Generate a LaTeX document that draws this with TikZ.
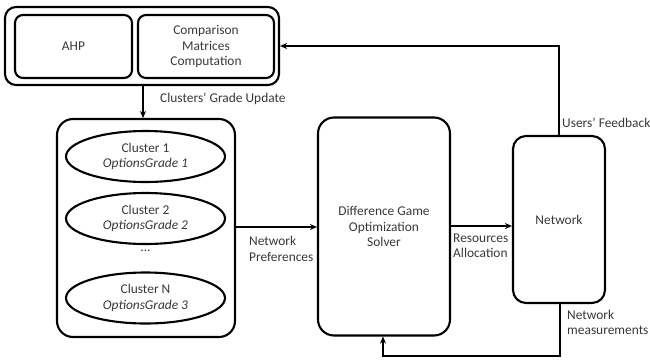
\documentclass[tikz,border=0pt]{standalone}
\usepackage{fontspec}
\setmainfont{Carlito}
\usetikzlibrary{shapes.geometric,arrows.meta}
\begin{document}
\begin{tikzpicture}[x=1pt,y=-1pt,
  font=\fontsize{13.4}{15.5}\selectfont, text=black!78,
  box/.style={draw=black,line width=2.1pt,rounded corners=11pt,align=center,inner sep=0pt},
  ell/.style={draw=black,ellipse,line width=2.1pt,inner sep=0pt,align=center},
  arr/.style={draw=black,line width=2pt,-{Stealth[length=7pt,width=6pt]}},
  lbl/.style={align=left,anchor=west,inner sep=0pt}]
\useasboundingbox (0,0) rectangle (650,359);
% top group
\node[box,minimum width=274pt,minimum height=78pt] (top) at (142,46) {};
\node[box,rounded corners=8pt,minimum width=117pt,minimum height=63pt] (ahp) at (73.5,46.5) {AHP};
\node[box,rounded corners=8pt,minimum width=136pt,minimum height=63pt] (cmp) at (206,46.5) {Comparison\\Matrices\\Computation};
% clusters
\node[box,rounded corners=16pt,minimum width=178pt,minimum height=218pt] (clu) at (146,228) {};
\node[ell,minimum width=159pt,minimum height=51pt] (c1) at (145.5,156.5) {Cluster 1\\\textit{OptionsGrade 1}};
\node[ell,minimum width=159pt,minimum height=51pt] (c2) at (145.5,218.5) {Cluster 2\\\textit{OptionsGrade 2}};
\node (dots) at (145.5,251) {...};
\node[ell,minimum width=159pt,minimum height=51pt] (c3) at (145.5,298) {Cluster N\\\textit{OptionsGrade 3}};
% solver
\node[box,rounded corners=16pt,minimum width=132pt,minimum height=218pt] (sol) at (384,226.5) {Difference Game\\Optimization\\Solver};
% network
\node[box,rounded corners=13pt,minimum width=92pt,minimum height=167pt] (net) at (559,219.5) {Network};
% connectors
\draw[arr] (top.south -| 143,0) -- (143,118);
\node[lbl] (lcg) at (160,99) {Clusters' Grade Update};
\draw[arr] (clu.east |- 0,227) -- (sol.west |- 0,227);
\node[lbl] (lnp) at (249,249) {Network\\Preferences};
\draw[arr] (sol.east |- 0,226) -- (net.west |- 0,226);
\node[lbl] (lra) at (453,245.5) {Resources\\Allocation};
\coordinate (fbA) at (559,46);
\draw[arr] (net.north -| fbA) -- (fbA) -- (top.east |- fbA);
\node[lbl] (luf) at (562,123) {Users' Feedback};
\coordinate (nmA) at (560,356);
\coordinate (nmB) at (383,356);
\draw[arr] (net.south -| nmA) -- (nmA) -- (nmB) -- (sol.south -| nmB);
\node[lbl] (lnm) at (567,322.5) {Network\\measurements};
\end{tikzpicture}
\end{document}
